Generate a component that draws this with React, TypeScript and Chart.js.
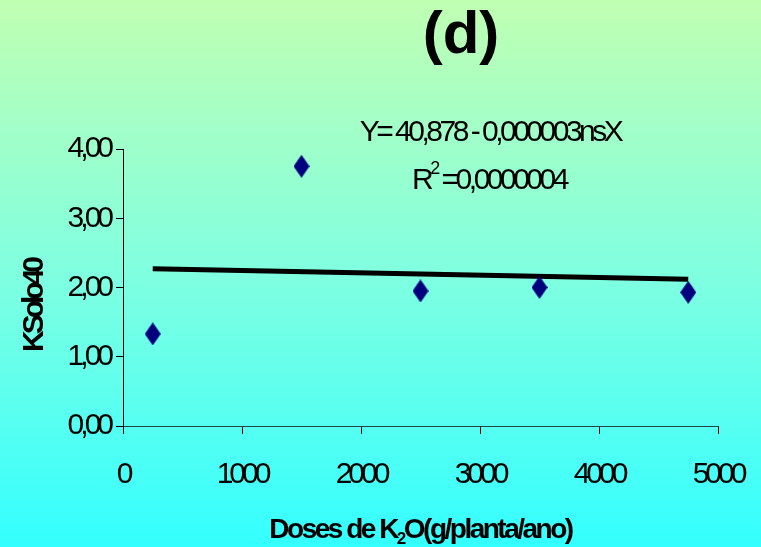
import React, { useEffect, useRef } from 'react';
import { Chart, registerables } from 'chart.js';

Chart.register(...registerables);

// ---- data ----
const doses = [250, 1500, 2500, 3500, 4750];
const ksolo40 = [1.33, 3.75, 1.95, 2.0, 1.93];
const trendX = [250, 4750];
const trendY = [2.27, 2.12];
const xMin = 0;
const xMax = 5000;
const xStep = 1000;
const yMin = 0;
const yMax = 4;
const yStep = 1;

// ---- texts ----
const titleText = '(d)';
const equationText = 'Y= 40,878 - 0,000003nsX';
const r2Label = 'R';
const r2Sup = '2';
const r2Value = ' =0,0000004';
const yTitle = 'KSolo40';
const xTitleParts = ['Doses de K', '2', 'O(g/planta/ano)'];

const FONT = '"Liberation Sans", Arial, sans-serif';

function makeDiamond(): HTMLCanvasElement {
  const c = document.createElement('canvas');
  c.width = 16;
  c.height = 23;
  const g = c.getContext('2d')!;
  g.fillStyle = '#00007f';
  g.beginPath();
  g.moveTo(8, 0);
  g.lineTo(16, 11.5);
  g.lineTo(8, 23);
  g.lineTo(0, 11.5);
  g.closePath();
  g.fill();
  return c;
}

const bgPlugin = {
  id: 'bgPlugin',
  beforeDraw(chart: any) {
    const ctx = chart.ctx as CanvasRenderingContext2D;
    const g = ctx.createLinearGradient(0, 0, 0, chart.height);
    g.addColorStop(0, '#c0ffb2');
    g.addColorStop(0.5, '#80ffe0');
    g.addColorStop(1, '#33ffff');
    ctx.save();
    ctx.fillStyle = g;
    ctx.fillRect(0, 0, chart.width, chart.height);
    ctx.restore();
    (ctx as any).letterSpacing = '-4px';
  },
};

const textPlugin = {
  id: 'textPlugin',
  afterDraw(chart: any) {
    const ctx = chart.ctx as CanvasRenderingContext2D;
    const area = chart.chartArea;
    ctx.save();
    ctx.fillStyle = '#000';
    ctx.textBaseline = 'alphabetic';

    // title
    (ctx as any).letterSpacing = '0px';
    ctx.font = `bold 60px ${FONT}`;
    ctx.textAlign = 'center';
    ctx.fillText(titleText, 461, 53);

    // equation
    (ctx as any).letterSpacing = '-3.5px';
    ctx.font = `30px ${FONT}`;
    ctx.textAlign = 'center';
    ctx.fillText(equationText, 490, 141);

    // R^2 line
    ctx.textAlign = 'left';
    ctx.font = `30px ${FONT}`;
    const wR = ctx.measureText(r2Label).width;
    ctx.font = `18px ${FONT}`;
    const wS = ctx.measureText(r2Sup).width;
    ctx.font = `30px ${FONT}`;
    const wV = ctx.measureText(r2Value).width;
    let x = 489 - (wR + wS + wV) / 2;
    ctx.fillText(r2Label, x, 189);
    x += wR;
    ctx.font = `18px ${FONT}`;
    ctx.fillText(r2Sup, x, 174);
    x += wS;
    ctx.font = `30px ${FONT}`;
    ctx.fillText(r2Value, x, 189);

    // y axis title
    ctx.save();
    (ctx as any).letterSpacing = '-4px';
    ctx.font = `bold 30px ${FONT}`;
    ctx.translate(43, 306);
    ctx.rotate(-Math.PI / 2);
    ctx.textAlign = 'center';
    ctx.fillText(yTitle, 0, 0);
    ctx.restore();

    // x axis title with subscript
    (ctx as any).letterSpacing = '-2.5px';
    ctx.textAlign = 'left';
    ctx.font = `bold 28px ${FONT}`;
    const w1 = ctx.measureText(xTitleParts[0]).width;
    ctx.font = `bold 17px ${FONT}`;
    const w2 = ctx.measureText(xTitleParts[1]).width;
    ctx.font = `bold 28px ${FONT}`;
    const w3 = ctx.measureText(xTitleParts[2]).width;
    const cx = (area.left + area.right) / 2;
    let tx = cx - (w1 + w2 + w3) / 2;
    const by = 538;
    ctx.fillText(xTitleParts[0], tx, by);
    tx += w1;
    ctx.font = `bold 17px ${FONT}`;
    ctx.fillText(xTitleParts[1], tx, by + 6);
    tx += w2;
    ctx.font = `bold 28px ${FONT}`;
    ctx.fillText(xTitleParts[2], tx, by);

    ctx.restore();
  },
};

const fmtComma = (v: number) => v.toFixed(2).replace('.', ',');

export default function App() {
  const ref = useRef<HTMLCanvasElement | null>(null);

  useEffect(() => {
    document.body.style.margin = '0';
    const canvas = ref.current!;
    const diamond = makeDiamond();
    const chart = new Chart(canvas, {
      type: 'scatter',
      data: {
        datasets: [
          {
            label: 'KSolo40',
            data: doses.map((d, i) => ({ x: d, y: ksolo40[i] })),
            pointStyle: diamond as any,
            pointRadius: 8,
            backgroundColor: '#00007f',
            borderColor: '#00007f',
            showLine: false,
          },
          {
            label: 'Tendência',
            data: trendX.map((d, i) => ({ x: d, y: trendY[i] })),
            showLine: true,
            borderColor: '#000',
            borderWidth: 5,
            pointRadius: 0,
            fill: false,
          },
        ],
      },
      options: {
        responsive: false,
        animation: false,
        devicePixelRatio: 1,
        layout: { padding: { top: 149, right: 43, left: 0, bottom: 0 } },
        plugins: {
          legend: { display: false },
          tooltip: { enabled: false },
          title: { display: false },
        },
        scales: {
          x: {
            type: 'linear',
            min: xMin,
            max: xMax,
            afterFit: (s: any) => {
              s.height = 121;
              s.paddingLeft = 0;
              s.paddingRight = 0;
            },
            ticks: {
              stepSize: xStep,
              color: '#000',
              padding: 23,
              maxRotation: 0,
              autoSkip: false,
              font: { family: FONT, size: 30 },
              callback: (v: any) => String(v),
            },
            grid: {
              drawOnChartArea: false,
              drawTicks: true,
              tickLength: 8,
              color: '#000',
            },
            border: { display: true, color: '#1e4848', width: 1 },
          },
          y: {
            type: 'linear',
            min: yMin,
            max: yMax,
            afterFit: (s: any) => {
              s.width = 123;
              s.paddingTop = 0;
              s.paddingBottom = 0;
            },
            ticks: {
              stepSize: yStep,
              color: '#000',
              padding: 6,
              font: { family: FONT, size: 30 },
              callback: (v: any) => fmtComma(Number(v)),
            },
            grid: {
              drawOnChartArea: false,
              drawTicks: true,
              tickLength: 7,
              color: '#000',
            },
            border: { display: true, color: '#000', width: 1 },
          },
        },
      },
      plugins: [bgPlugin, textPlugin],
    });
    return () => chart.destroy();
  }, []);

  return (
    <div style={{ width: 761, height: 547 }}>
      <canvas ref={ref} width={761} height={547} style={{ display: 'block', width: 761, height: 547 }} />
    </div>
  );
}
